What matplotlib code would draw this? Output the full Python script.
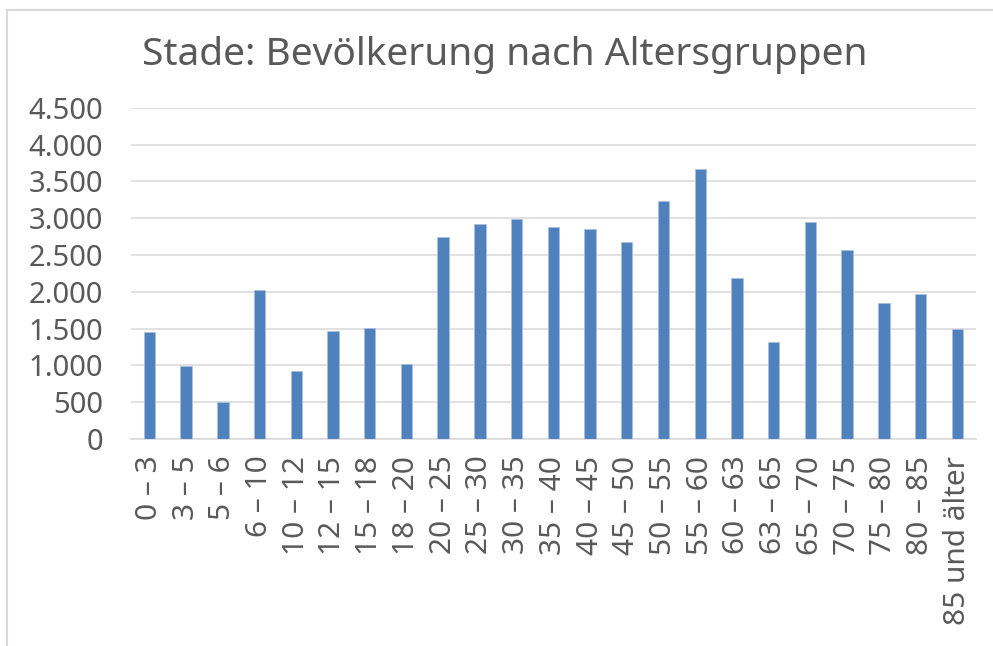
import matplotlib
matplotlib.use("Agg")
import matplotlib.pyplot as plt
from matplotlib.lines import Line2D
from matplotlib.ticker import FuncFormatter

# Altersgruppen und Einwohnerzahlen
gruppen = ["0 – 3", "3 – 5", "5 – 6", "6 – 10", "10 – 12", "12 – 15",
           "15 – 18", "18 – 20", "20 – 25", "25 – 30", "30 – 35", "35 – 40",
           "40 – 45", "45 – 50", "50 – 55", "55 – 60", "60 – 63", "63 – 65",
           "65 – 70", "70 – 75", "75 – 80", "80 – 85", "85 und älter"]
einwohner = [1454, 992, 507, 2029, 924, 1472, 1508, 1019, 2740, 2921,
             2989, 2876, 2849, 2672, 3238, 3673, 2183, 1322, 2944, 2563,
             1852, 1975, 1499]
y_ticks = [0, 500, 1000, 1500, 2000, 2500, 3000, 3500, 4000, 4500]

plt.rcParams['font.family'] = ['Noto Sans', 'DejaVu Sans']
grau = "#595959"

fig = plt.figure(figsize=(9.93, 6.46), dpi=100)
ax = fig.add_axes([131/993, 1-439/646, (975.7-131)/993, (439-107.7)/646])

x = list(range(len(gruppen)))
ax.bar(x, einwohner, width=0.31, color="#4F81BD", edgecolor="#A9C0DE",
       linewidth=0.6, zorder=3)

ax.set_xlim(-0.5, len(gruppen)-0.5)
ax.set_ylim(0, 4500)
ax.set_yticks(y_ticks)
ax.yaxis.set_major_formatter(FuncFormatter(lambda v, p: f"{v:,.0f}".replace(",", ".")))
ax.set_xticks(x)
ax.set_xticklabels(gruppen, rotation=90, va="top", ha="center")

ax.grid(axis="y", color="#D9D9D9", linewidth=1.1, zorder=0)
ax.tick_params(axis="y", length=0, pad=20, labelsize=21, labelcolor=grau)
ax.tick_params(axis="x", length=0, pad=12, labelsize=21.5, labelcolor=grau)
for s in ["top", "right", "left"]:
    ax.spines[s].set_visible(False)
ax.spines["bottom"].set_color("#D9D9D9")
ax.spines["bottom"].set_linewidth(1.1)

fig.text(505/993, 1-65/646, "Stade: Bevölkerung nach Altersgruppen",
         ha="center", va="baseline", fontsize=28, color=grau)

# Rahmen des Diagramms
fig.add_artist(Line2D([6.5/993, 6.5/993], [0, 1-9.5/646], color="#D9D9D9",
                      linewidth=1.5, transform=fig.transFigure))
fig.add_artist(Line2D([6.5/993, 1], [1-9.5/646, 1-9.5/646], color="#D9D9D9",
                      linewidth=1.5, transform=fig.transFigure))

fig.savefig("out.png", dpi=100)
